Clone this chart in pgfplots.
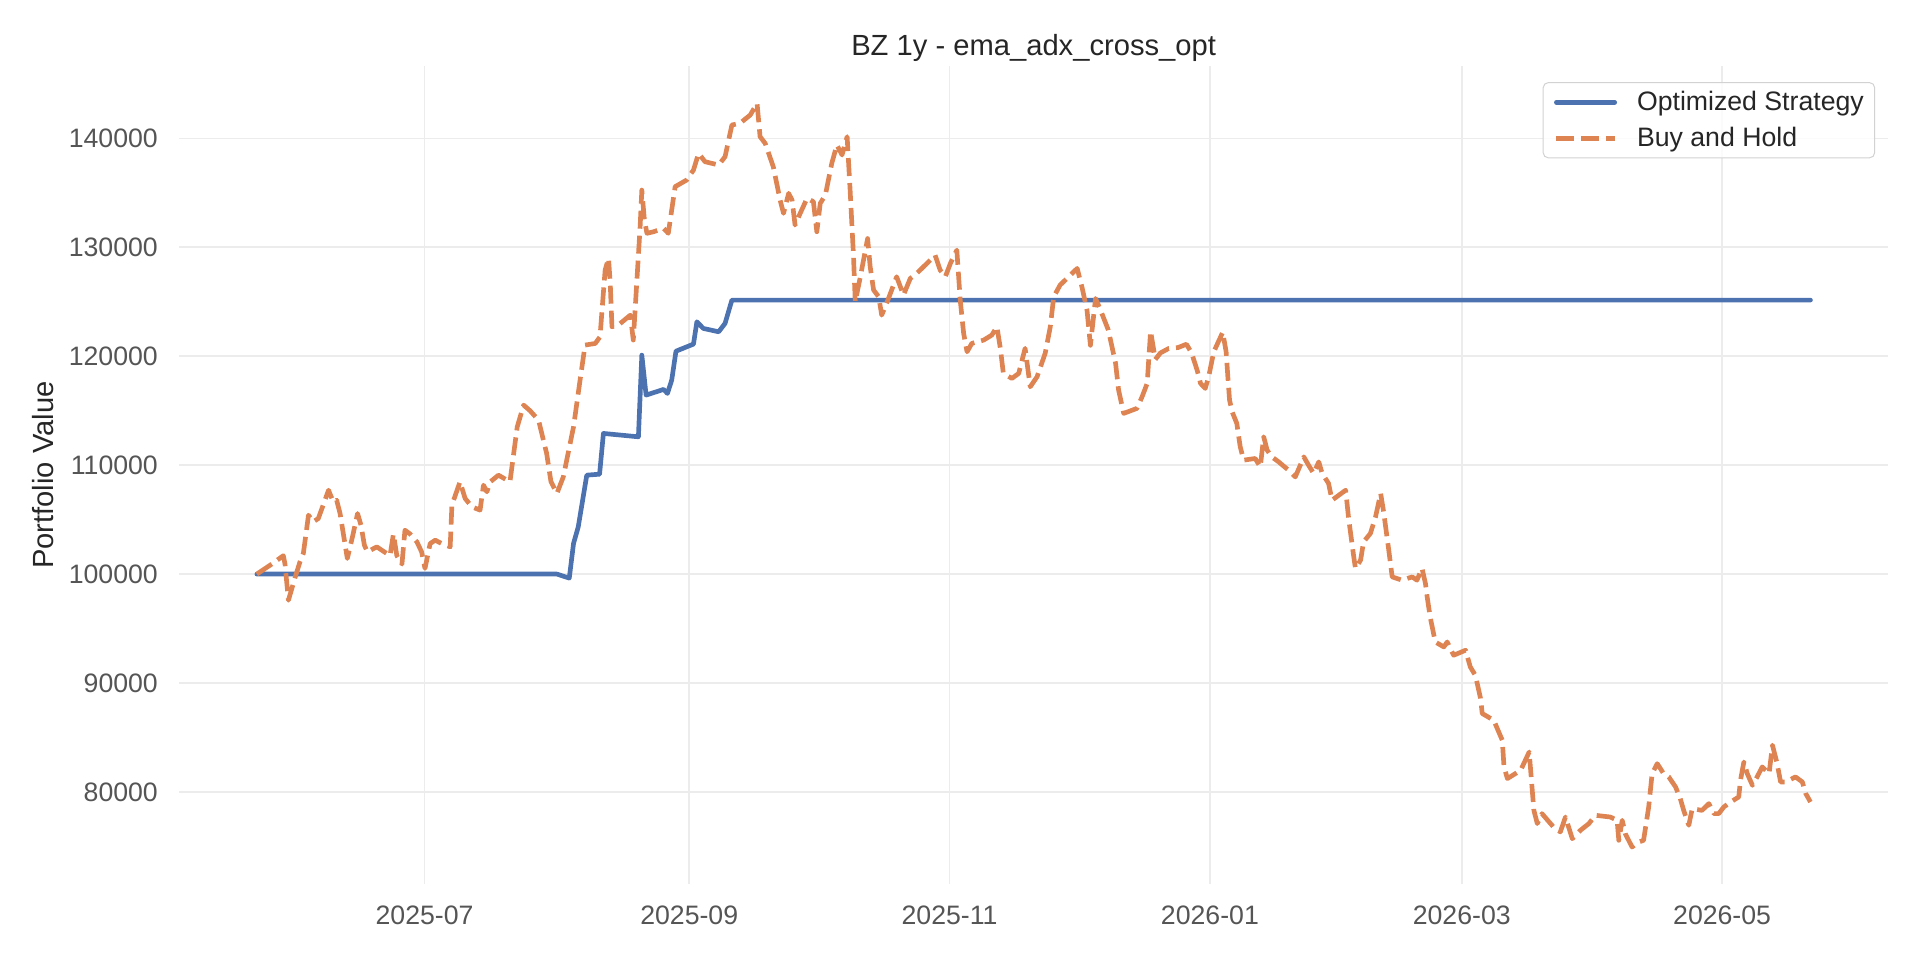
\documentclass[border=0pt]{standalone}
\usepackage{fontspec}
\setmainfont{Liberation Sans}
\usepackage{pgfplots}
\usepackage{pgfplotstable}
\pgfplotsset{compat=1.18}

\definecolor{sbblue}{RGB}{76,114,176}
\definecolor{sborange}{RGB}{221,132,82}
\definecolor{gridgray}{RGB}{236,236,236}
\definecolor{ticktext}{RGB}{85,85,85}
\definecolor{labeltext}{RGB}{38,38,38}
\definecolor{legendedge}{RGB}{210,210,210}

% x = days since 2025-07-01
\pgfplotstableread{
d v
-39.3 100000
31.0 100000
33.9 99630
34.9 102810
36.0 104330
38.0 109080
41.0 109170
41.9 112910
50.1 112600
50.9 120100
51.9 116430
56.0 116950
56.9 116580
57.9 117800
58.9 120460
63.0 121110
63.8 123160
65.3 122550
68.9 122240
70.4 123010
72.0 125150
324.7 125150
}\stratdata

\pgfplotstableread{
d v
-39.3 100000
-35.8 100920
-33.1 101690
-32.7 100920
-31.9 97600
-31.1 98670
-30.3 99740
-29.2 101120
-28.4 101900
-27.2 105410
-26.1 104800
-24.9 105100
-22.5 107700
-21.4 106630
-20.6 106780
-19.8 105560
-18.1 101430
-16.9 103410
-15.7 105560
-14.9 104490
-14.1 102650
-13.4 102040
-11.2 102500
-8.1 101690
-7.3 103680
-6.5 101690
-5.3 100920
-4.6 104030
-3.4 103680
-1.8 102960
-0.7 102040
0.1 100520
1.3 102800
2.5 103110
4.0 102800
6.0 102500
6.4 106330
8.3 108470
9.5 106940
11.1 106170
13.0 105870
13.8 108160
14.6 107550
15.4 108470
17.3 109080
20.0 108470
21.7 113500
23.2 115510
24.7 115000
26.7 114130
28.6 111070
29.6 108500
31.0 107400
32.5 108920
34.9 113520
36.5 118000
37.6 121020
40.0 121170
41.1 121780
42.3 127910
43.1 128980
43.5 126680
43.9 122700
45.4 122860
48.2 123770
48.9 121480
49.7 126680
50.5 131880
50.9 135250
51.5 132500
52.1 131280
53.6 131420
56.0 131740
57.1 131280
58.7 135560
61.4 136170
63.0 137090
64.2 138620
65.7 137850
68.9 137550
70.4 138310
72.0 141220
73.9 141380
76.3 142140
77.9 143210
78.6 140150
79.8 139540
81.7 137390
83.3 134330
84.1 133110
85.3 134950
86.1 134330
86.8 132040
88.0 133110
89.6 134490
91.1 134180
91.9 131420
92.7 134030
93.9 134790
95.4 137700
96.6 139390
97.8 138470
99.0 140150
99.7 135250
100.5 129130
100.9 125000
102.1 127290
103.8 130800
104.4 128210
105.2 126070
106.4 125450
107.1 123770
108.7 125310
110.6 127290
112.2 125610
113.8 127140
115.3 127600
118.1 128670
119.6 129280
120.8 127900
122.0 127290
123.2 128520
124.7 129740
125.5 125150
126.3 122090
127.1 120400
128.2 121170
131.0 121480
132.9 121940
134.1 122700
134.9 120720
135.6 118420
137.6 117960
139.2 118420
140.7 120720
141.9 117190
143.5 118110
145.4 120260
146.6 122700
147.4 125450
148.9 126530
150.9 127290
152.9 128060
154.0 126380
155.2 124230
156.0 121000
157.2 125300
158.3 124300
160.2 122400
161.9 119340
162.6 116890
163.8 114750
166.9 115210
168.1 116270
169.3 117500
170.1 122300
171.2 119700
172.4 120300
174.3 120700
176.6 120800
178.5 121100
179.7 120300
181.0 118720
181.8 117500
182.9 117040
183.7 118110
184.9 120400
187.0 122200
187.8 120400
188.2 118110
188.6 115970
189.2 114900
190.3 113830
191.1 111680
191.9 110460
194.6 110610
195.8 109840
196.6 112600
197.4 111380
198.5 110760
200.1 110300
202.4 109540
204.0 108920
206.0 110760
207.1 110000
208.3 109240
209.5 110300
210.3 109240
211.8 108320
212.6 106780
214.2 107240
215.8 107700
216.5 105100
217.7 101580
218.1 100520
219.3 101280
220.0 102960
221.6 103730
222.8 105250
224.0 107400
224.7 105710
225.9 102200
226.7 99740
229.0 99440
231.4 99740
232.5 99440
233.7 100520
234.5 99130
234.9 97900
235.6 96070
236.8 93770
238.8 93310
239.6 93770
241.1 92550
243.9 93010
245.0 91480
246.2 90700
247.4 88600
247.8 87200
250.5 86580
252.5 84750
252.9 82300
253.7 81230
256.8 81990
258.8 83670
259.9 78310
260.7 77100
261.8 78010
264.5 76780
266.1 76330
267.3 77700
268.9 75710
270.8 76480
272.8 77100
274.3 77860
277.8 77700
279.4 77400
279.8 75560
280.6 77400
281.3 76180
282.9 74950
284.5 75410
285.6 75560
286.8 78620
287.6 81680
288.8 82600
290.3 81680
291.5 81380
293.1 80460
294.2 79390
295.0 78310
296.2 76940
297.0 78470
299.3 78310
300.9 78930
302.1 78010
303.2 78010
304.4 78620
306.0 79080
307.9 79540
308.3 81070
309.1 82750
309.9 81680
311.1 80610
312.2 81380
313.4 82300
315.0 81680
315.8 84290
316.9 82600
317.7 80920
318.9 80920
321.2 81380
322.8 80920
323.6 79850
324.7 79080
}\bhdata

\begin{document}
\begin{tikzpicture}
\begin{axis}[
    scale only axis,
    width=1025.4pt, height=490.8pt,
    xmin=-57.5, xmax=342.9,
    ymin=71537, ymax=146623,
    xtick={0,62,123,184,243,304},
    xticklabels={2025-07,2025-09,2025-11,2026-01,2026-03,2026-05},
    ytick={80000,90000,100000,110000,120000,130000,140000},
    yticklabels={80000,90000,100000,110000,120000,130000,140000},
    scaled y ticks=false,
    /pgf/number format/assume math mode=true,
    grid=major,
    major grid style={draw=gridgray, line width=0.9pt},
    axis line style={draw=none},
    major tick length=0pt,
    ticklabel style={font=\fontsize{16}{19}\selectfont, text=ticktext},
    xticklabel style={inner sep=0pt, yshift=-12.6pt},
    yticklabel style={inner sep=0pt, xshift=-12.6pt},
    ylabel={Portfolio Value},
    ylabel style={font=\fontsize{17.5}{21}\selectfont, text=labeltext,
        at={(axis description cs:-0.0796,0.5)}, anchor=center, inner sep=0pt},
    title={BZ 1y - ema\_adx\_cross\_opt},
    title style={font=\fontsize{17.5}{21}\selectfont, text=labeltext,
        at={(axis description cs:0.5,1)}, anchor=base, inner sep=0pt, yshift=0.5pt},
    legend cell align=left,
    legend image code/.code={\draw[#1] (0pt,0pt) -- (35pt,0pt);},
    legend style={at={(axis description cs:1,1)}, anchor=north east,
        xshift=-7.8pt, yshift=-9.6pt,
        font=\fontsize{16}{19}\selectfont, text=labeltext,
        draw=legendedge, line width=0.6pt, rounded corners=3pt,
        fill=white, fill opacity=0.8, text opacity=1,
        inner xsep=6.5pt, inner ysep=5.2pt,
        row sep=8.5pt, column sep=12pt,
        nodes={inner sep=0pt}},
]
\addplot[sbblue, line width=2.8pt, line cap=round, line join=round]
    table[x=d, y=v] {\stratdata};
\addlegendentry{Optimized Strategy}
\addplot[sborange, line width=2.8pt, line join=round, dash pattern=on 10.8pt off 4.2pt]
    table[x=d, y=v] {\bhdata};
\addlegendentry{Buy and Hold}
\end{axis}
\pgfresetboundingbox
\path[use as bounding box] (-107.5pt,-45.5pt) rectangle (1044.5pt,530.5pt);
\end{tikzpicture}
\end{document}
